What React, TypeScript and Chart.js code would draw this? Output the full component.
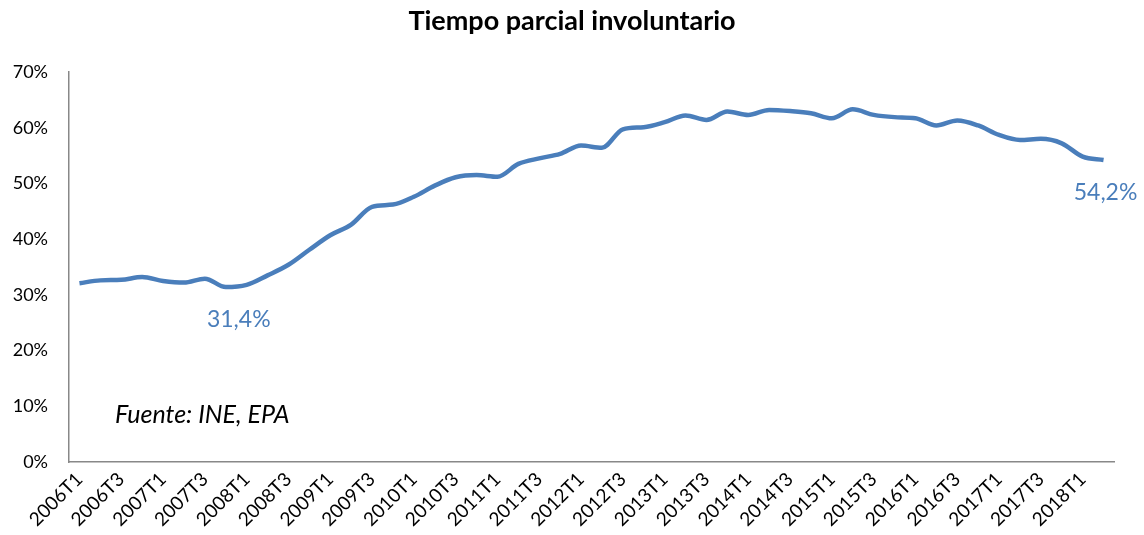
import React, { useEffect, useRef } from "react";
import { Chart, registerables } from "chart.js";

Chart.register(...registerables);

const quarters: string[] = [
  "2006T1", "2006T2", "2006T3", "2006T4",
  "2007T1", "2007T2", "2007T3", "2007T4",
  "2008T1", "2008T2", "2008T3", "2008T4",
  "2009T1", "2009T2", "2009T3", "2009T4",
  "2010T1", "2010T2", "2010T3", "2010T4",
  "2011T1", "2011T2", "2011T3", "2011T4",
  "2012T1", "2012T2", "2012T3", "2012T4",
  "2013T1", "2013T2", "2013T3", "2013T4",
  "2014T1", "2014T2", "2014T3", "2014T4",
  "2015T1", "2015T2", "2015T3", "2015T4",
  "2016T1", "2016T2", "2016T3", "2016T4",
  "2017T1", "2017T2", "2017T3", "2017T4",
  "2018T1", "2018T2",
];

const parcialInvoluntario: number[] = [
  32.1, 32.6, 32.7, 33.2, 32.5, 32.2, 32.9, 31.4,
  31.8, 33.5, 35.4, 38.1, 40.7, 42.6, 45.8, 46.2,
  47.6, 49.6, 51.1, 51.5, 51.2, 53.5, 54.5, 55.3,
  56.8, 56.4, 59.7, 60.1, 61.0, 62.2, 61.4, 62.9,
  62.3, 63.2, 63.0, 62.6, 61.7, 63.3, 62.3, 61.9,
  61.7, 60.4, 61.3, 60.4, 58.7, 57.8, 58.0, 57.2,
  54.8, 54.2,
];

const yTicks: number[] = [0, 10, 20, 30, 40, 50, 60, 70];

const annotatedIndex: number[] = [7, 49];
const annotatedText: string[] = ["31,4%", "54,2%"];
const sourceText = "Fuente: INE, EPA";
const titleText = "Tiempo parcial involuntario";

const LINE_COLOR = "#4a7ebb";
const FONT = "Lato, 'Open Sans', sans-serif";

const overlayPlugin = {
  id: "overlay",
  afterDraw(chart: any) {
    const ctx = chart.ctx;
    const xs = chart.scales.x;
    const ys = chart.scales.y;
    ctx.save();
    // title
    ctx.fillStyle = "#000";
    ctx.font = `bold 27px ${FONT}`;
    ctx.textAlign = "center";
    ctx.textBaseline = "middle";
    ctx.fillText(titleText, chart.width / 2, 21);
    // data labels
    ctx.fillStyle = LINE_COLOR;
    ctx.font = `23px ${FONT}`;
    annotatedIndex.forEach((idx, k) => {
      const px = xs.getPixelForValue(idx);
      const py = ys.getPixelForValue(parcialInvoluntario[idx]);
      const dx = k === 0 ? 13 : 2;
      ctx.fillText(annotatedText[k], px + dx, py + 33);
    });
    // source
    ctx.fillStyle = "#000";
    ctx.font = `italic 25px ${FONT}`;
    ctx.textAlign = "left";
    ctx.fillText(sourceText, chart.chartArea.left + 46, ys.getPixelForValue(8.4));
    ctx.restore();
  },
};

export default function App() {
  const ref = useRef<HTMLCanvasElement | null>(null);
  useEffect(() => {
    if (!ref.current) return;
    const chart = new Chart(ref.current, {
      type: "line",
      data: {
        labels: quarters,
        datasets: [
          {
            data: parcialInvoluntario,
            borderColor: LINE_COLOR,
            borderWidth: 4.5,
            pointRadius: 0,
            tension: 0.4,
            cubicInterpolationMode: "monotone",
            fill: false,
          },
        ],
      },
      options: {
        animation: false,
        responsive: true,
        maintainAspectRatio: false,
        layout: { padding: { top: 72, right: 30, left: 0, bottom: 0 } },
        plugins: {
          legend: { display: false },
          title: { display: false },
          tooltip: { enabled: false },
        },
        scales: {
          x: {
            offset: true,
            grid: { display: false, drawTicks: false },
            border: { display: true, color: "#888888", width: 1.5 },
            ticks: {
              autoSkip: false,
              maxRotation: 45,
              minRotation: 45,
              padding: 6,
              color: "#000",
              font: { family: FONT, size: 19 },
              callback: (_v: any, i: number) => (i % 2 === 0 ? quarters[i] : ""),
            },
            afterFit: (scale: any) => {
              scale.height = 73;
            },
          },
          y: {
            min: 0,
            max: 70,
            afterBuildTicks: (scale: any) => {
              scale.ticks = yTicks.map((v) => ({ value: v }));
            },
            grid: { display: false, drawTicks: false },
            border: { display: true, color: "#888888", width: 1.5 },
            ticks: {
              padding: 21,
              color: "#000",
              font: { family: FONT, size: 18 },
              callback: (v: any) => `${v}%`,
            },
            afterFit: (scale: any) => {
              scale.width = 69;
            },
          },
        },
      },
      plugins: [overlayPlugin],
    });
    return () => chart.destroy();
  }, []);
  return (
    <div style={{ position: "fixed", left: 0, top: 0, width: 1144, height: 535, background: "#fff" }}>
      <canvas ref={ref} />
    </div>
  );
}
